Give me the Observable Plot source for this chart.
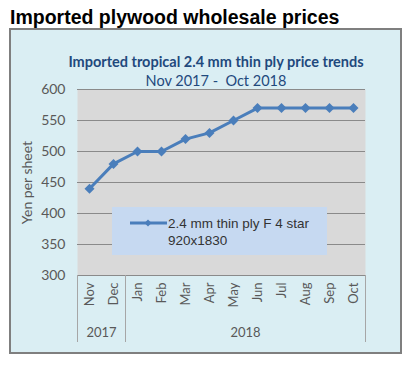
<!DOCTYPE html>
<html><head><meta charset="utf-8">
<script src="https://cdn.jsdelivr.net/npm/d3@7"></script>
<script src="https://cdn.jsdelivr.net/npm/@observablehq/plot@0.6"></script>
<style>
html,body{margin:0;padding:0;background:#fff;}
#wrap{position:relative;width:418px;height:371px;overflow:hidden;}
#title{position:absolute;left:10px;top:5px;font:bold 19.5px "Liberation Sans",Arial,sans-serif;color:#000;line-height:24px;white-space:nowrap;}
#box{position:absolute;left:9px;top:28px;width:389px;height:322px;background:#daeef3;border:2px solid #7f7f7f;}
#sub{position:absolute;left:0;width:432px;top:52px;text-align:center;font:14.5px Lato,sans-serif;color:#1f497d;line-height:19px;white-space:nowrap;}
#sub b{font-weight:bold;}
#chart{position:absolute;left:0;top:0;}
#legend{position:absolute;left:112px;top:207px;width:215px;height:48px;background:#c6d9f1;}
#legend svg{position:absolute;left:0;top:0;}
#legtext{position:absolute;left:56px;top:8px;font:13.5px "Liberation Sans",Arial,sans-serif;color:#333;line-height:17px;white-space:nowrap;}
</style></head>
<body>
<div id="wrap">
  <div id="title">Imported plywood wholesale prices</div>
  <div id="box"></div>
  <div id="sub"><b>Imported tropical 2.4 mm thin ply price trends</b><br>Nov 2017 -&nbsp; Oct 2018</div>
  <div id="chart"></div>
  <div id="legend">
    <svg width="60" height="48"><line x1="18" x2="55" y1="16" y2="16" stroke="#4a7ebb" stroke-width="3"/><path d="M36,12.5 L39.5,16 L36,19.5 L32.5,16 Z" fill="#4a7ebb"/></svg>
    <div id="legtext"></div>
  </div>
</div>
<script>
const months = ["Nov","Dec","Jan","Feb","Mar","Apr","May","Jun","Jul","Aug","Sep","Oct"];
const prices = [440,480,500,500,520,530,550,570,570,570,570,570];
const years = ["2017","2018"];
const yearFirst = [0,2];
const yearLast = [1,11];
const yTicks = [300,350,400,450,500,550,600];
const seriesName = ["2.4 mm thin ply F 4 star","920x1830"];
const yLabel = "Yen per sheet";

document.getElementById("legtext").innerHTML = seriesName.join("<br>");

const data = months.map((m,i)=>({i, month:m, price:prices[i]}));
const groups = years.map((y,k)=>({year:y, first:yearFirst[k], last:yearLast[k]}));
const seps = [yearFirst[0]-0.5, ...yearLast.map(l=>l+0.5)];

const chart = Plot.plot({
  width:418, height:371,
  marginLeft:77, marginRight:53, marginTop:89, marginBottom:96,
  style:{background:"transparent", fontFamily:"Lato, sans-serif", fontSize:"14px", color:"#595959", overflow:"visible"},
  x:{type:"linear", domain:[-0.5, months.length-0.5], axis:null},
  y:{domain:[yTicks[0], yTicks[yTicks.length-1]], axis:null},
  marks:[
    Plot.frame({fill:"#d9d9d9", stroke:null}),
    Plot.gridY(yTicks.slice(1), {stroke:"#8a8a8a", strokeOpacity:1}),
    Plot.ruleY([yTicks[0]], {stroke:"#8a8a8a"}),
    Plot.axisY({ticks:yTicks, tickSize:0, tickPadding:12, label:yLabel, labelAnchor:"center", labelArrow:"none", labelOffset:55, fontSize:14}),
    Plot.axisX({ticks:d3.range(months.length), tickFormat:i=>months[i], tickRotate:-90, tickSize:0, tickPadding:7, label:null, fontSize:13}),
    Plot.ruleX(seps, {stroke:"#a6a6a6", insetTop:186, insetBottom:-67}),
    Plot.text(groups, {x:d=>(d.first+d.last)/2, text:"year", frameAnchor:"bottom", dy:61, fontSize:13, fill:"#595959"}),
    Plot.line(data, {x:"i", y:"price", stroke:"#4a7ebb", strokeWidth:3}),
    Plot.dot(data, {x:"i", y:"price", symbol:"diamond2", r:4.5, fill:"#4a7ebb", stroke:null})
  ]
});
document.getElementById("chart").appendChild(chart);
</script>
</body></html>
